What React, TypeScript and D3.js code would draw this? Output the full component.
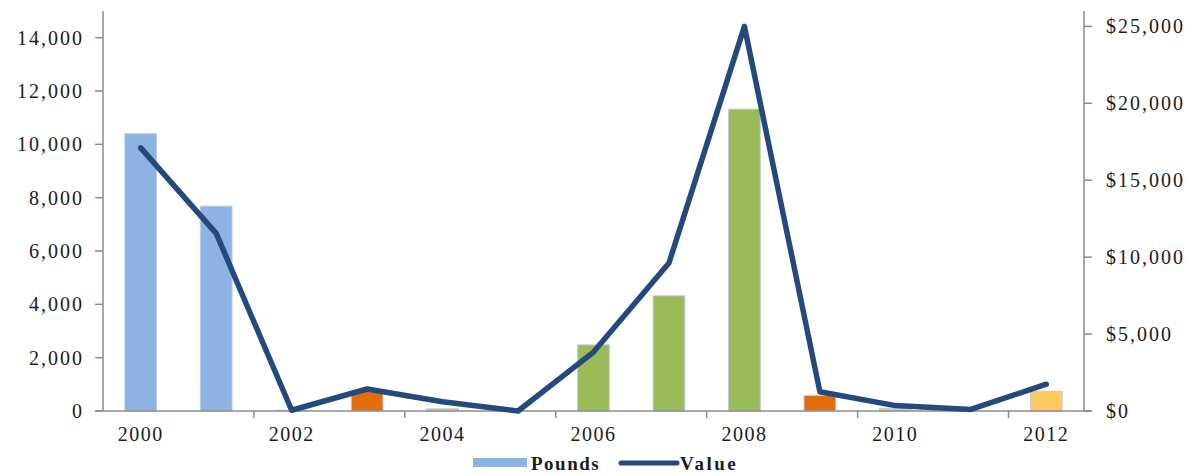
import React, { useEffect, useRef } from 'react'
import * as d3 from 'd3'

const years = ['2000', '2001', '2002', '2003', '2004', '2005', '2006', '2007', '2008', '2009', '2010', '2011', '2012']
const pounds = [10400, 7680, 30, 780, 80, 0, 2480, 4320, 11320, 580, 100, 0, 740]
const value = [17100, 11550, 50, 1430, 600, 0, 3830, 9620, 25000, 1250, 350, 100, 1740]
const barColors = ['#8DB3E2', '#8DB3E2', '#8DB3E2', '#E46C0A', '#B5C99A', '#9BBB59', '#9BBB59', '#9BBB59', '#9BBB59', '#E46C0A', '#FFC95E', '#FFC95E', '#FFC95E']
const leftTicks = [0, 2000, 4000, 6000, 8000, 10000, 12000, 14000]
const rightTicks = [0, 5000, 10000, 15000, 20000, 25000]
const xLabels = ['2000', '2002', '2004', '2006', '2008', '2010', '2012']

const W = 1198
const H = 475

const App = () => {
  const ref = useRef<SVGSVGElement>(null)

  useEffect(() => {
    const svg = d3.select(ref.current)
    svg.selectAll('*').remove()

    const left = 103, right = 1084, top = 11, bottom = 411
    const font = "'Liberation Serif', 'Times New Roman', serif"

    const x = d3.scaleBand().domain(years).range([left, right]).paddingInner(0.58).paddingOuter(0.29)
    const yL = d3.scaleLinear().domain([0, 15000]).range([bottom, top])
    const yR = d3.scaleLinear().domain([0, 26000]).range([bottom, top])
    const step = (right - left) / years.length

    // bars
    svg.append('g')
      .selectAll('rect')
      .data(pounds)
      .join('rect')
      .attr('x', (d, i) => x(years[i])!)
      .attr('width', x.bandwidth())
      .attr('y', d => yL(d))
      .attr('height', d => bottom - yL(d))
      .attr('fill', (d, i) => barColors[i])
      .attr('stroke', '#B9CDE5')
      .attr('stroke-width', d => d > 0 ? 1 : 0)

    // axes lines
    const axisColor = '#8c8c8c'
    svg.append('line').attr('x1', left).attr('x2', left).attr('y1', top).attr('y2', bottom)
      .attr('stroke', axisColor).attr('stroke-width', 1.5)
    svg.append('line').attr('x1', right).attr('x2', right).attr('y1', top).attr('y2', bottom)
      .attr('stroke', axisColor).attr('stroke-width', 1.5)
    svg.append('line').attr('x1', left - 8).attr('x2', right + 8).attr('y1', bottom).attr('y2', bottom)
      .attr('stroke', axisColor).attr('stroke-width', 1.5)

    const textColor = '#1c1c1c'
    const fmt = d3.format(',')

    // left ticks
    const gl = svg.append('g')
    leftTicks.forEach(t => {
      gl.append('line').attr('x1', left - 8).attr('x2', left).attr('y1', yL(t)).attr('y2', yL(t))
        .attr('stroke', axisColor).attr('stroke-width', 1.5)
      gl.append('text').attr('x', 84).attr('y', yL(t)).attr('dy', '0.35em')
        .attr('text-anchor', 'end').attr('font-family', font).attr('font-size', 20)
        .attr('letter-spacing', 2).attr('fill', textColor).text(fmt(t))
    })

    // right ticks
    const gr = svg.append('g')
    rightTicks.forEach(t => {
      gr.append('line').attr('x1', right).attr('x2', right + 8).attr('y1', yR(t)).attr('y2', yR(t))
        .attr('stroke', axisColor).attr('stroke-width', 1.5)
      gr.append('text').attr('x', 1106).attr('y', yR(t)).attr('dy', '0.35em')
        .attr('text-anchor', 'start').attr('font-family', font).attr('font-size', 20)
        .attr('letter-spacing', 2).attr('fill', textColor).text('$' + fmt(t))
    })

    // x ticks at every second category boundary
    const gx = svg.append('g')
    for (let i = 2; i < years.length; i += 2) {
      const tx = left + i * step
      gx.append('line').attr('x1', tx).attr('x2', tx).attr('y1', bottom).attr('y2', bottom + 7)
        .attr('stroke', axisColor).attr('stroke-width', 1.5)
    }
    xLabels.forEach(l => {
      gx.append('text').attr('x', x(l)! + x.bandwidth() / 2).attr('y', 441)
        .attr('text-anchor', 'middle').attr('font-family', font).attr('font-size', 20)
        .attr('letter-spacing', 1.5).attr('fill', textColor).text(l)
    })

    // value line
    const line = d3.line<number>()
      .x((d, i) => x(years[i])! + x.bandwidth() / 2)
      .y(d => yR(d))
    svg.append('path').datum(value).attr('d', line)
      .attr('fill', 'none').attr('stroke', '#23497D').attr('stroke-width', 5.5)
      .attr('stroke-linejoin', 'round').attr('stroke-linecap', 'round')

    // legend
    const lg = svg.append('g')
    lg.append('rect').attr('x', 473).attr('y', 458).attr('width', 54).attr('height', 9).attr('fill', '#8DB3E2')
    lg.append('text').attr('x', 531).attr('y', 470).attr('font-family', font).attr('font-size', 19)
      .attr('font-weight', 'bold').attr('letter-spacing', 1.5).attr('fill', textColor).text('Pounds')
    lg.append('line').attr('x1', 621).attr('x2', 677).attr('y1', 463).attr('y2', 463)
      .attr('stroke', '#23497D').attr('stroke-width', 5).attr('stroke-linecap', 'round')
    lg.append('text').attr('x', 680).attr('y', 470).attr('font-family', font).attr('font-size', 19)
      .attr('font-weight', 'bold').attr('letter-spacing', 2.5).attr('fill', textColor).text('Value')
  }, [])

  return (
    <div style={{ position: 'absolute', left: 0, top: 0, background: '#fff' }}>
      <svg ref={ref} width={W} height={H} style={{ display: 'block' }} />
    </div>
  )
}

export default App
